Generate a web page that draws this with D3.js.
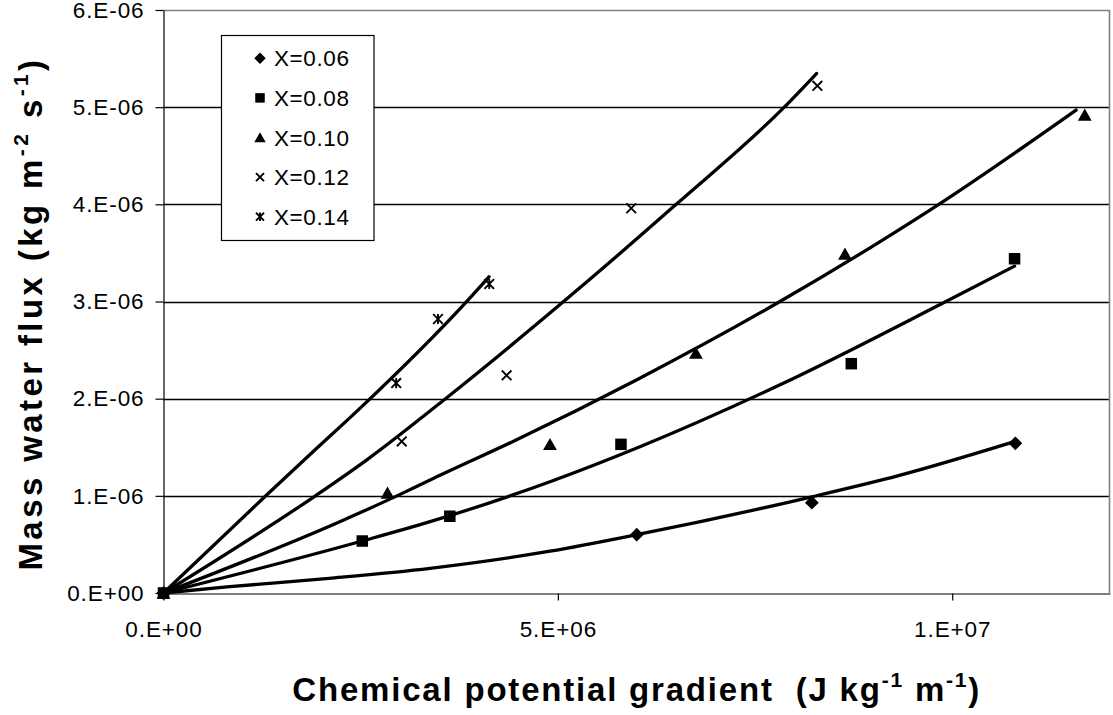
<!DOCTYPE html>
<html>
<head>
<meta charset="utf-8">
<script src="https://cdn.jsdelivr.net/npm/d3@7"></script>
<style>
  body { margin: 0; background: #fff; }
  svg { display: block; font-family: "Liberation Sans", Arial, sans-serif; }
</style>
</head>
<body>
<div id="chart"></div>
<script>
// measured points (gradient in J kg-1 m-1, flux in kg m-2 s-1)
const seriesNames = ["X=0.06", "X=0.08", "X=0.10", "X=0.12", "X=0.14"];

const grad06 = [0, 6.0e6, 8.22e6, 10.8e6];
const flux06 = [0, 0.60e-6, 0.93e-6, 1.54e-6];
const grad08 = [0, 2.52e6, 3.63e6, 5.80e6, 8.72e6, 10.79e6];
const flux08 = [0, 0.535e-6, 0.79e-6, 1.53e-6, 2.36e-6, 3.44e-6];
const grad10 = [0, 2.84e6, 4.90e6, 6.75e6, 8.64e6, 11.68e6];
const flux10 = [0, 1.03e-6, 1.53e-6, 2.47e-6, 3.49e-6, 4.92e-6];
const grad12 = [0, 3.02e6, 4.35e6, 5.93e6, 8.29e6];
const flux12 = [0, 1.56e-6, 2.24e-6, 3.96e-6, 5.22e-6];
const grad14 = [0, 2.95e6, 3.48e6, 4.13e6];
const flux14 = [0, 2.16e-6, 2.82e-6, 3.18e-6];

// trend lines
const trendGrad06 = [0, 0.84e6, 2.1e6, 3.38e6, 4.9e6, 6.0e6, 8.22e6, 9.33e6, 10.8e6];
const trendFlux06 = [0, 0.065e-6, 0.151e-6, 0.254e-6, 0.43e-6, 0.6e-6, 0.99e-6, 1.21e-6, 1.56e-6];
const trendGrad08 = [0, 2.52e6, 3.38e6, 4.9e6, 6.04e6, 7.81e6, 9.92e6, 10.79e6];
const trendFlux08 = [0, 0.535e-6, 0.734e-6, 1.145e-6, 1.505e-6, 2.14e-6, 3.0e-6, 3.364e-6];
const trendGrad10 = [0, 2.235e6, 3.0e6, 3.38e6, 4.47e6, 5.99e6, 7.81e6, 9.08e6, 9.83e6, 11.57e6];
const trendFlux10 = [0, 0.734e-6, 1.015e-6, 1.163e-6, 1.574e-6, 2.19e-6, 2.997e-6, 3.614e-6, 4.0e-6, 4.97e-6];
const trendGrad12 = [0, 1.94e6, 2.574e6, 3.607e6, 5.02e6, 6.5e6, 7.87e6, 8.28e6];
const trendFlux12 = [0, 1.008e-6, 1.368e-6, 2.02e-6, 2.963e-6, 4.0e-6, 5.0e-6, 5.347e-6];
const trendGrad14 = [0, 1.307e6, 1.919e6, 2.49e6, 3.84e6, 4.127e6];
const trendFlux14 = [0, 1.008e-6, 1.471e-6, 1.9e-6, 2.997e-6, 3.254e-6];

const xTicks = [0, 5e6, 1e7];
const yTicks = [0, 1e-6, 2e-6, 3e-6, 4e-6, 5e-6, 6e-6];

const width = 1113, height = 715;
const margin = { top: 10, right: 3, bottom: 122, left: 163.5 };

const xScale = d3.scaleLinear().domain([0, 1.2e7]).range([margin.left, width - margin.right]);
const yScale = d3.scaleLinear().domain([0, 6e-6]).range([height - margin.bottom, margin.top]);

function expFormat(v) {
    if (v === 0) return "0.E+00";
    const e = Math.floor(Math.log10(v) + 1e-9);
    const m = Math.round(v / Math.pow(10, e));
    return m + ".E" + (e < 0 ? "-" : "+") + String(Math.abs(e)).padStart(2, "0");
}

const svg = d3.select("#chart").append("svg")
    .attr("width", width)
    .attr("height", height);

const x0 = xScale.range()[0], x1 = xScale.range()[1];
const y0 = yScale.range()[0], y1 = yScale.range()[1];

// grid
svg.append("g")
    .selectAll("line")
    .data(yTicks.slice(1, -1))
    .join("line")
    .attr("x1", x0).attr("x2", x1)
    .attr("y1", d => Math.round(yScale(d)) + 0.5)
    .attr("y2", d => Math.round(yScale(d)) + 0.5)
    .attr("stroke", "#000")
    .attr("stroke-width", 1.3);

// plot border top / right
svg.append("path")
    .attr("d", `M${x0},${y1 + 0.5}H${x1 - 0.5}V${y0}`)
    .attr("fill", "none")
    .attr("stroke", "#808080")
    .attr("stroke-width", 1.6);

const yAxis = svg.append("g")
    .attr("transform", `translate(${x0},0)`)
    .call(d3.axisLeft(yScale).tickValues(yTicks).tickFormat(expFormat)
        .tickSize(8).tickSizeOuter(0).tickPadding(11));

const xAxis = svg.append("g")
    .attr("transform", `translate(0,${Math.round(y0) + 0.5})`)
    .call(d3.axisBottom(xScale).tickValues(xTicks).tickFormat(expFormat)
        .tickSize(7).tickSizeOuter(0).tickPadding(21));

[yAxis, xAxis].forEach(a => {
    a.selectAll("path, line").attr("stroke", "#000").attr("stroke-width", 1.2);
    a.selectAll("text")
        .attr("fill", "#000")
        .style("font-size", "22.5px")
        .style("letter-spacing", "0.9px")
        .style("font-family", "'Liberation Sans', Arial, sans-serif");
});

// trend lines
const trends = [
    [trendGrad06, trendFlux06],
    [trendGrad08, trendFlux08],
    [trendGrad10, trendFlux10],
    [trendGrad12, trendFlux12],
    [trendGrad14, trendFlux14]
];
const line = d3.line()
    .x(d => xScale(d[0]))
    .y(d => yScale(d[1]))
    .curve(d3.curveMonotoneX);

svg.append("g")
    .selectAll("path")
    .data(trends.map(t => d3.zip(t[0], t[1])))
    .join("path")
    .attr("d", line)
    .attr("fill", "none")
    .attr("stroke", "#000")
    .attr("stroke-width", 3.3)
    .attr("stroke-linejoin", "round")
    .attr("stroke-linecap", "round");

// markers
function drawMarker(g, type, s) {
    if (type === 0) {
        g.append("path").attr("d", `M0,${-s * 0.6}L${s * 0.6},0L0,${s * 0.6}L${-s * 0.6},0Z`).attr("fill", "#000");
    } else if (type === 1) {
        g.append("rect").attr("x", -s / 2).attr("y", -s / 2).attr("width", s).attr("height", s).attr("fill", "#000");
    } else if (type === 2) {
        g.append("path").attr("d", `M0,${-s * 0.55}L${s * 0.6},${s * 0.5}L${-s * 0.6},${s * 0.5}Z`).attr("fill", "#000");
    } else {
        const r = s * 0.42;
        let d = `M${-r},${-r}L${r},${r}M${-r},${r}L${r},${-r}`;
        if (type === 4) d += `M0,${-r * 1.05}L0,${r * 1.05}`;
        g.append("path").attr("d", d).attr("fill", "none").attr("stroke", "#000").attr("stroke-width", 1.9);
    }
}

const series = [
    [grad06, flux06],
    [grad08, flux08],
    [grad10, flux10],
    [grad12, flux12],
    [grad14, flux14]
];

series.forEach((s, i) => {
    const pts = d3.zip(s[0], s[1]);
    svg.append("g")
        .selectAll("g")
        .data(pts)
        .join("g")
        .attr("transform", d => `translate(${xScale(d[0])},${yScale(d[1])})`)
        .each(function () { drawMarker(d3.select(this), i, 11.5); });
});

// legend
const legend = svg.append("g").attr("transform", "translate(221.5,35.5)");
legend.append("rect")
    .attr("width", 152.5).attr("height", 205)
    .attr("fill", "#fff").attr("stroke", "#000").attr("stroke-width", 1.2);
seriesNames.forEach((name, i) => {
    const row = legend.append("g").attr("transform", `translate(0,${22.8 + i * 39.6})`);
    const m = row.append("g").attr("transform", "translate(38.5,0)");
    drawMarker(m, i, 9.5);
    row.append("text")
        .attr("x", 52.5).attr("dy", "0.36em")
        .style("font-size", "22.5px")
        .style("letter-spacing", "0.6px")
        .text(name);
});

// axis titles
const xTitle = svg.append("text")
    .attr("x", (x0 + x1) / 2)
    .attr("y", 701)
    .attr("text-anchor", "middle")
    .style("font-size", "33px")
    .style("font-weight", "bold")
    .style("letter-spacing", "1.8px")
    .style("white-space", "pre");
xTitle.append("tspan").text("Chemical potential gradient  (J kg");
xTitle.append("tspan").attr("dy", -14).style("font-size", "21px").text("-1");
xTitle.append("tspan").attr("dy", 14).text(" m");
xTitle.append("tspan").attr("dy", -14).style("font-size", "21px").text("-1");
xTitle.append("tspan").attr("dy", 14).text(")");

const yTitle = svg.append("text")
    .attr("transform", `translate(42,${(y0 + y1) / 2 + 12}) rotate(-90)`)
    .attr("text-anchor", "middle")
    .style("font-size", "33px")
    .style("font-weight", "bold")
    .style("letter-spacing", "3.4px")
    .style("white-space", "pre");
yTitle.append("tspan").text("Mass water flux (kg m");
yTitle.append("tspan").attr("dy", -14).style("font-size", "21px").text("-2");
yTitle.append("tspan").attr("dy", 14).text(" s");
yTitle.append("tspan").attr("dy", -14).style("font-size", "21px").text("-1");
yTitle.append("tspan").attr("dy", 14).text(")");
</script>
</body>
</html>
